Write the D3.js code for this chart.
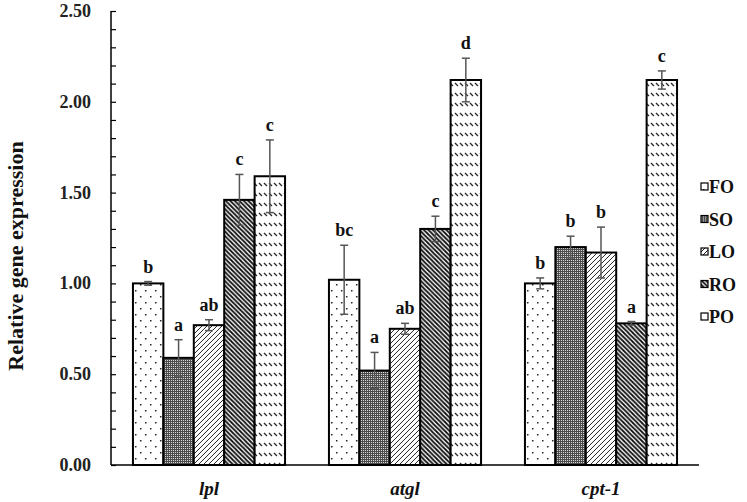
<!DOCTYPE html>
<html>
<head>
<meta charset="utf-8">
<script src="https://cdn.jsdelivr.net/npm/d3@7"></script>
<style>
  body { margin: 0; background: #fff; }
  text { font-family: "Liberation Serif", "Times New Roman", serif; font-weight: bold; }
</style>
</head>
<body>
<div id="canvas"></div>
<script>
// data
const genes = ['lpl', 'atgl', 'cpt-1'];
const groups = ['FO', 'SO', 'LO', 'RO', 'PO'];
const means = [
  [1.00, 0.59, 0.77, 1.46, 1.59],
  [1.02, 0.52, 0.75, 1.30, 2.12],
  [1.00, 1.20, 1.17, 0.78, 2.12]
];
const errors = [
  [0.01, 0.10, 0.03, 0.14, 0.20],
  [0.19, 0.10, 0.03, 0.07, 0.12],
  [0.03, 0.06, 0.14, 0.01, 0.05]
];
const letters = [
  ['b', 'a', 'ab', 'c', 'c'],
  ['bc', 'a', 'ab', 'c', 'd'],
  ['b', 'b', 'b', 'a', 'c']
];
const yTicks = [0, 0.5, 1.0, 1.5, 2.0, 2.5];

const width = 747, height = 502;
const svg = d3.select('#canvas').append('svg')
  .attr('width', width)
  .attr('height', height);

// patterns
const defs = svg.append('defs');

const pFO = defs.append('pattern').attr('id', 'p-FO')
  .attr('patternUnits', 'userSpaceOnUse').attr('width', 10).attr('height', 12);
pFO.append('rect').attr('width', 10).attr('height', 12).attr('fill', '#fff');
pFO.append('rect').attr('x', 2).attr('y', 2).attr('width', 1.5).attr('height', 1.5).attr('fill', '#222');
pFO.append('rect').attr('x', 7).attr('y', 8).attr('width', 1.5).attr('height', 1.5).attr('fill', '#222');

const pSO = defs.append('pattern').attr('id', 'p-SO')
  .attr('patternUnits', 'userSpaceOnUse').attr('width', 2).attr('height', 2);
pSO.append('rect').attr('width', 2).attr('height', 2).attr('fill', '#4a4a4a');
pSO.append('rect').attr('width', 1).attr('height', 1).attr('fill', '#ddd');

const pLO = defs.append('pattern').attr('id', 'p-LO')
  .attr('patternUnits', 'userSpaceOnUse').attr('width', 5).attr('height', 5);
pLO.append('rect').attr('width', 5).attr('height', 5).attr('fill', '#fff');
pLO.append('path').attr('d', 'M-1,6 L6,-1 M-1,1 L1,-1 M4,6 L6,4')
  .attr('stroke', '#222').attr('stroke-width', 1);

const pRO = defs.append('pattern').attr('id', 'p-RO')
  .attr('patternUnits', 'userSpaceOnUse').attr('width', 4.5).attr('height', 4.5);
pRO.append('rect').attr('width', 4.5).attr('height', 4.5).attr('fill', '#fff');
pRO.append('path').attr('d', 'M-1,-1 L5.5,5.5 M-1,3.5 L1,5.5 M3.5,-1 L5.5,1')
  .attr('stroke', '#111').attr('stroke-width', 1.8);

const pPO = defs.append('pattern').attr('id', 'p-PO')
  .attr('patternUnits', 'userSpaceOnUse').attr('width', 5).attr('height', 10);
pPO.append('rect').attr('width', 5).attr('height', 10).attr('fill', '#fff');
pPO.append('path').attr('d', 'M1,3 L4,6')
  .attr('stroke', '#222').attr('stroke-width', 1.2);

// scales
const x0 = d3.scaleBand()
  .domain(genes)
  .range([111, 699])
  .paddingInner(0.224)
  .paddingOuter(0.112);

const x1 = d3.scaleBand()
  .domain(groups)
  .range([0, x0.bandwidth()]);

const y = d3.scaleLinear()
  .domain([0, 2.5])
  .range([465, 11]);

// bars
const g = svg.selectAll('.gene')
  .data(genes)
  .enter()
  .append('g')
  .attr('class', 'gene')
  .attr('transform', d => 'translate(' + x0(d) + ',0)');

const rows = g.selectAll('.bar')
  .data((d, i) => groups.map((s, j) => ({ s: s, v: means[i][j], e: errors[i][j], l: letters[i][j] })))
  .enter();

rows.append('rect')
  .attr('x', d => x1(d.s))
  .attr('y', d => y(d.v))
  .attr('width', x1.bandwidth())
  .attr('height', d => y(0) - y(d.v))
  .attr('fill', d => 'url(#p-' + d.s + ')')
  .attr('stroke', '#000')
  .attr('stroke-width', 2);

// error bars
const cx = d => x1(d.s) + x1.bandwidth() / 2;
rows.append('line')
  .attr('x1', cx).attr('x2', cx)
  .attr('y1', d => y(d.v + d.e)).attr('y2', d => y(d.v - d.e))
  .attr('stroke', '#555').attr('stroke-width', 1.5);
rows.append('line')
  .attr('x1', d => cx(d) - 4).attr('x2', d => cx(d) + 4)
  .attr('y1', d => y(d.v + d.e)).attr('y2', d => y(d.v + d.e))
  .attr('stroke', '#555').attr('stroke-width', 1.5);
rows.append('line')
  .attr('x1', d => cx(d) - 4).attr('x2', d => cx(d) + 4)
  .attr('y1', d => y(d.v - d.e)).attr('y2', d => y(d.v - d.e))
  .attr('stroke', '#555').attr('stroke-width', 1.5);

// letters
rows.append('text')
  .attr('x', cx)
  .attr('y', d => y(d.v + d.e) - 9)
  .attr('text-anchor', 'middle')
  .attr('font-size', 18)
  .attr('fill', '#111')
  .text(d => d.l);

// y axis
const yAxis = d3.axisLeft(y)
  .tickValues(d3.range(0, 26).map(i => i / 10))
  .tickSize(-5)
  .tickFormat('');
const ya = svg.append('g').attr('transform', 'translate(111,0)').call(yAxis);
ya.select('.domain').attr('stroke', '#000').attr('stroke-width', 1.5).attr('d', 'M0,' + y(2.5) + 'V' + y(0));
ya.selectAll('.tick line').attr('stroke', '#000').attr('stroke-width', 1.2);

svg.selectAll('.ylab')
  .data(yTicks)
  .enter()
  .append('text')
  .attr('class', 'ylab')
  .attr('x', 91)
  .attr('y', d => y(d) + 6)
  .attr('text-anchor', 'end')
  .attr('font-size', 18)
  .attr('fill', '#222')
  .text(d => d.toFixed(2));

// x axis
svg.append('line')
  .attr('x1', 111).attr('x2', 699)
  .attr('y1', y(0)).attr('y2', y(0))
  .attr('stroke', '#000').attr('stroke-width', 1.5);

svg.selectAll('.xlab')
  .data(genes)
  .enter()
  .append('text')
  .attr('class', 'xlab')
  .attr('x', d => x0(d) + x0.bandwidth() / 2)
  .attr('y', 495)
  .attr('text-anchor', 'middle')
  .attr('font-size', 19)
  .attr('font-style', 'italic')
  .attr('fill', '#111')
  .text(d => d);

// y title
svg.append('text')
  .attr('transform', 'translate(23,256) rotate(-90)')
  .attr('text-anchor', 'middle')
  .attr('font-size', 22)
  .attr('fill', '#111')
  .text('Relative gene expression');

// legend
const leg = svg.selectAll('.legend')
  .data(groups)
  .enter()
  .append('g')
  .attr('class', 'legend')
  .attr('transform', (d, i) => 'translate(701,' + (187 + i * 32.5) + ')');
leg.append('rect')
  .attr('x', 0).attr('y', -4)
  .attr('width', 7).attr('height', 7)
  .attr('fill', d => 'url(#p-' + d + ')')
  .attr('stroke', '#000').attr('stroke-width', 1.2);
leg.append('text')
  .attr('x', 8)
  .attr('y', 6)
  .attr('font-size', 18)
  .attr('fill', '#111')
  .text(d => d);
</script>
</body>
</html>
